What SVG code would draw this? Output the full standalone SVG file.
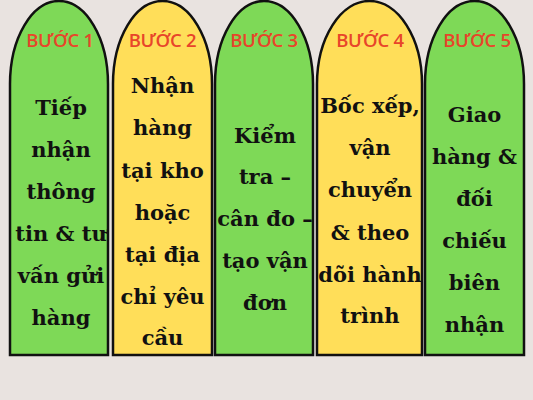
<svg xmlns="http://www.w3.org/2000/svg" width="533" height="400" viewBox="0 0 533 400">
<style>
.card{stroke:#111;stroke-width:2.5}
.g{fill:#7ed957}
.y{fill:#ffde59}
.step{font-family:"Open Sans","Liberation Sans",sans-serif;font-weight:600;font-size:18.5px;letter-spacing:-0.3px;fill:#e8452a;text-anchor:middle}
.txt{font-family:"DejaVu Serif","Liberation Serif",serif;font-weight:bold;font-size:21px;fill:#111;text-anchor:middle}
</style>
<rect width="533" height="400" fill="#e9e3e0"/>
<g id="step1">
<path class="card g" d="M10,355 V84 A49,83 0 0 1 108,84 V355 Z"/>
<text class="step" x="60" y="47">BƯỚC 1</text>
<text class="txt"><tspan x="61" y="115">Tiếp</tspan><tspan x="61" y="157">nhận</tspan><tspan x="61" y="199">thông</tspan><tspan x="61" y="241">tin &amp; tư</tspan><tspan x="61" y="283">vấn gửi</tspan><tspan x="61" y="325">hàng</tspan></text>
</g>
<g id="step2">
<path class="card y" d="M113,355 V84 A49.5,83 0 0 1 212,84 V355 Z"/>
<text class="step" x="162.5" y="47">BƯỚC 2</text>
<text class="txt"><tspan x="162.5" y="93">Nhận</tspan><tspan x="162.5" y="135">hàng</tspan><tspan x="162.5" y="178">tại kho</tspan><tspan x="162.5" y="220">hoặc</tspan><tspan x="162.5" y="262">tại địa</tspan><tspan x="162.5" y="304">chỉ yêu</tspan><tspan x="162.5" y="345">cầu</tspan></text>
</g>
<g id="step3">
<path class="card g" d="M215,355 V84 A49,83 0 0 1 313,84 V355 Z"/>
<text class="step" x="264" y="47">BƯỚC 3</text>
<text class="txt"><tspan x="265" y="143">Kiểm</tspan><tspan x="265" y="184">tra –</tspan><tspan x="265" y="226">cân đo –</tspan><tspan x="265" y="268">tạo vận</tspan><tspan x="265" y="310">đơn</tspan></text>
</g>
<g id="step4">
<path class="card y" d="M317,355 V84 A52.5,83 0 0 1 422,84 V355 Z"/>
<text class="step" x="370" y="47">BƯỚC 4</text>
<text class="txt"><tspan x="370" y="113">Bốc xếp,</tspan><tspan x="370" y="155">vận</tspan><tspan x="370" y="197">chuyển</tspan><tspan x="370" y="240">&amp; theo</tspan><tspan x="370" y="282">dõi hành</tspan><tspan x="370" y="323">trình</tspan></text>
</g>
<g id="step5">
<path class="card g" d="M425,355 V84 A49.5,83 0 0 1 524,84 V355 Z"/>
<text class="step" x="477" y="47">BƯỚC 5</text>
<text class="txt"><tspan x="474.5" y="122">Giao</tspan><tspan x="474.5" y="164">hàng &amp;</tspan><tspan x="474.5" y="206">đối</tspan><tspan x="474.5" y="248">chiếu</tspan><tspan x="474.5" y="290">biên</tspan><tspan x="474.5" y="332">nhận</tspan></text>
</g>
<g id="connectors"/>
</svg>
